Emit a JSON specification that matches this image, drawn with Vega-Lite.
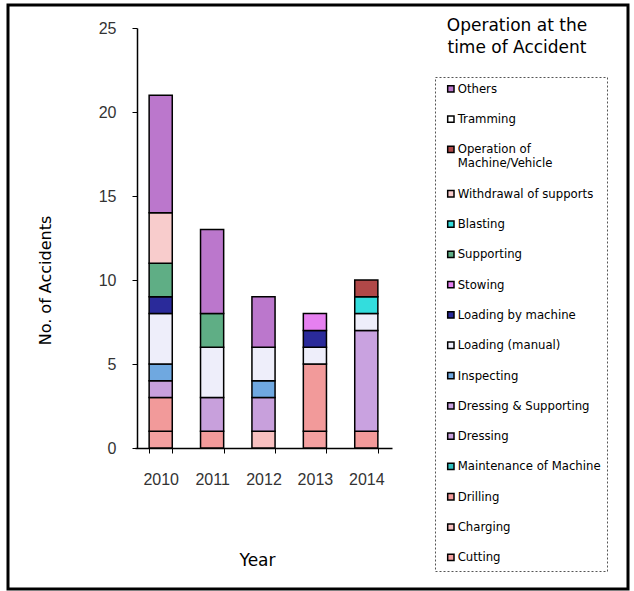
{
  "$schema": "https://vega.github.io/schema/vega-lite/v6.json",
  "autosize": {"type": "none"},
  "width": 620,
  "height": 584,
  "padding": {"left": 8, "top": 5, "right": 6, "bottom": 2},
  "background": "white",
  "config": {
    "view": {"stroke": "black", "strokeWidth": 3},
    "legend": {"strokeDash": [2, 2]}
  },
  "title": {
    "text": ["Operation at the", "time of Accident"],
    "font": "DejaVu Sans",
    "fontSize": 17,
    "fontWeight": "normal",
    "color": "black",
    "anchor": "middle",
    "frame": "group",
    "baseline": "top",
    "lineHeight": 22,
    "offset": 0,
    "dx": 199,
    "dy": 52
  },
  "data": {
    "values": [
      {"year": "2010", "op": "Cutting", "n": 1},
      {"year": "2010", "op": "Drilling", "n": 2},
      {"year": "2010", "op": "Dressing", "n": 1},
      {"year": "2010", "op": "Inspecting", "n": 1},
      {"year": "2010", "op": "Loading (manual)", "n": 3},
      {"year": "2010", "op": "Loading by machine", "n": 1},
      {"year": "2010", "op": "Supporting", "n": 2},
      {"year": "2010", "op": "Withdrawal of supports", "n": 3},
      {"year": "2010", "op": "Others", "n": 7},
      {"year": "2011", "op": "Drilling", "n": 1},
      {"year": "2011", "op": "Dressing", "n": 2},
      {"year": "2011", "op": "Loading (manual)", "n": 3},
      {"year": "2011", "op": "Supporting", "n": 2},
      {"year": "2011", "op": "Others", "n": 5},
      {"year": "2012", "op": "Charging", "n": 1},
      {"year": "2012", "op": "Dressing", "n": 2},
      {"year": "2012", "op": "Inspecting", "n": 1},
      {"year": "2012", "op": "Loading (manual)", "n": 2},
      {"year": "2012", "op": "Others", "n": 3},
      {"year": "2013", "op": "Cutting", "n": 1},
      {"year": "2013", "op": "Drilling", "n": 4},
      {"year": "2013", "op": "Loading (manual)", "n": 1},
      {"year": "2013", "op": "Loading by machine", "n": 1},
      {"year": "2013", "op": "Stowing", "n": 1},
      {"year": "2014", "op": "Drilling", "n": 1},
      {"year": "2014", "op": "Dressing & Supporting", "n": 6},
      {"year": "2014", "op": "Loading (manual)", "n": 1},
      {"year": "2014", "op": "Blasting", "n": 1},
      {"year": "2014", "op": "Operation of Machine/Vehicle", "n": 1}
    ]
  },
  "transform": [
    {"calculate": "indexof(['Others', 'Tramming', 'Operation of Machine/Vehicle', 'Withdrawal of supports', 'Blasting', 'Supporting', 'Stowing', 'Loading by machine', 'Loading (manual)', 'Inspecting', 'Dressing & Supporting', 'Dressing', 'Maintenance of Machine', 'Drilling', 'Charging', 'Cutting'], datum.op)", "as": "k"}
  ],
  "mark": {"type": "bar", "stroke": "black", "strokeWidth": 1.5},
  "encoding": {
    "x": {
      "field": "year",
      "type": "ordinal",
      "scale": {"range": [127, 384], "paddingInner": 0.55, "paddingOuter": 0.275},
      "axis": {
        "offset": -141,
        "labelAngle": 0,
        "tickBand": "extent",
        "tickSize": 5,
        "tickColor": "black",
        "domainColor": "black",
        "domainWidth": 1.5,
        "labelPadding": 18,
        "labelFont": "Liberation Sans",
        "labelFontSize": 16,
        "labelColor": "#333",
        "title": "Year",
        "titleFont": "DejaVu Sans",
        "titleFontSize": 17,
        "titleFontWeight": "normal",
        "titleColor": "black",
        "titleX": 249,
        "titleY": 112,
        "titleAlign": "center",
        "titleBaseline": "middle"
      }
    },
    "y": {
      "field": "n",
      "type": "quantitative",
      "stack": "zero",
      "scale": {"domain": [0, 25], "range": [443, 23], "nice": false},
      "axis": {
        "offset": -129,
        "grid": false,
        "values": [0, 5, 10, 15, 20, 25],
        "tickSize": 5,
        "tickColor": "black",
        "domainColor": "black",
        "domainWidth": 1.5,
        "labelPadding": 16,
        "labelFont": "Liberation Sans",
        "labelFontSize": 16,
        "labelColor": "#333",
        "title": "No. of Accidents",
        "titleFont": "DejaVu Sans",
        "titleFontSize": 16,
        "titleFontWeight": "normal",
        "titleColor": "black",
        "titleX": -92,
        "titleY": 275,
        "titleAngle": -90,
        "titleAlign": "center",
        "titleBaseline": "middle"
      }
    },
    "order": {"field": "k", "type": "quantitative", "sort": "descending"},
    "color": {
      "field": "op",
      "type": "nominal",
      "scale": {
        "domain": ["Others", "Tramming", "Operation of Machine/Vehicle", "Withdrawal of supports", "Blasting", "Supporting", "Stowing", "Loading by machine", "Loading (manual)", "Inspecting", "Dressing & Supporting", "Dressing", "Maintenance of Machine", "Drilling", "Charging", "Cutting"],
        "range": ["#bb77cc", "#ffffff", "#b04848", "#f8cccc", "#33dddd", "#5fae85", "#e680f0", "#2a2a9a", "#eeeefa", "#6fa8e0", "#c9a2e0", "#c8a0dc", "#30c0c0", "#f29a9a", "#f8c0c0", "#f4a0a0"]
      },
      "legend": {
        "orient": "none",
        "legendX": 427,
        "legendY": 72,
        "title": null,
        "strokeColor": "#555",
        "fillColor": "white",
        "padding": 6,
        "symbolOffset": 4,
        "rowPadding": 16.3,
        "symbolType": "square",
        "symbolSize": 40,
        "symbolStrokeColor": "black",
        "symbolStrokeWidth": 1.5,
        "labelFont": "DejaVu Sans",
        "labelFontSize": 11.7,
        "labelColor": "black",
        "labelLimit": 200,
        "labelOffset": 1,
        "labelExpr": "datum.label == 'Operation of Machine/Vehicle' ? ['Operation of', 'Machine/Vehicle'] : datum.label"
      }
    }
  }
}
